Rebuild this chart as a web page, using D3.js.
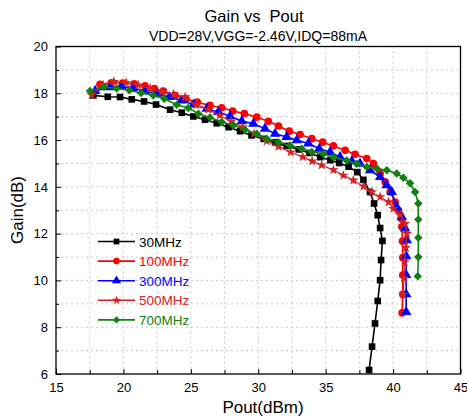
<!DOCTYPE html>
<html>
<head>
<meta charset="utf-8">
<script src="https://cdn.jsdelivr.net/npm/d3@7"></script>
<style>
  body { margin: 0; background: #fff; }
  text { font-family: "Liberation Sans", Arial, sans-serif; white-space: pre; }
</style>
</head>
<body>
<script>
// Pout (dBm) and Gain (dB) per frequency
const pout30 = [17.77,18.84,19.75,20.62,21.53,22.42,23.46,24.33,25.19,26.05,26.92,27.8,28.65,29.5,30.4,31.25,32.1,33.0,33.8,34.6,35.35,36.0,36.7,37.35,37.8,38.29,38.59,38.86,39.04,39.21,39.11,39.04,38.86,38.66,38.44,38.22];
const gain30 = [17.91,17.85,17.84,17.74,17.65,17.52,17.3,17.17,17.01,16.87,16.72,16.55,16.38,16.2,16.05,15.9,15.75,15.6,15.45,15.27,15.14,15.02,14.86,14.63,14.3,13.78,13.29,12.79,12.24,11.69,10.87,10.01,9.12,8.16,7.17,6.17];

const pout100 = [18.26,19.1,19.95,20.8,21.6,22.3,22.96,23.83,24.64,25.48,26.42,27.29,28.11,28.97,29.89,30.75,31.5,32.3,33.1,33.97,34.78,35.57,36.44,37.18,38.05,38.54,39.04,39.41,39.78,40.15,40.39,40.6,40.65,40.7,40.72,40.72,40.72,40.67];
const gain100 = [18.38,18.45,18.44,18.4,18.32,18.2,18.09,17.91,17.77,17.62,17.48,17.38,17.24,17.13,16.98,16.8,16.6,16.38,16.24,16.06,15.91,15.75,15.56,15.39,15.21,14.99,14.57,14.21,13.78,13.35,13.0,12.65,12.29,11.68,10.98,10.23,9.41,8.61];

const pout300 = [17.9,19.0,19.85,20.7,21.6,22.5,23.4,24.3,25.2,26.18,27.04,27.91,28.78,29.64,30.5,31.25,32.11,32.86,33.72,34.53,35.33,36.07,36.94,37.55,38.29,39.04,39.53,39.9,40.27,40.65,40.89,41.02,40.97,40.97,40.97,40.97];
const gain300 = [18.1,18.26,18.3,18.22,18.1,17.98,17.84,17.69,17.52,17.34,17.2,17.02,16.81,16.7,16.49,16.27,16.13,15.99,15.85,15.63,15.49,15.27,15.1,14.99,14.71,14.42,14.07,13.78,13.14,12.71,12.22,11.72,11.04,10.23,9.41,8.65];

const pout500 = [17.65,18.5,19.3,20.2,21.1,22.0,22.84,23.7,24.57,25.4,26.3,27.15,28.0,28.85,29.7,30.63,31.5,32.4,33.3,34.0,34.7,35.57,36.31,37.05,37.8,38.42,39.04,39.66,40.02,40.52,40.89,41.02,40.95,40.85,40.8,40.75];
const gain500 = [17.92,18.35,18.5,18.45,18.35,18.2,18.06,17.96,17.84,17.5,17.3,17.05,16.8,16.55,16.27,15.95,15.72,15.48,15.28,15.1,14.93,14.72,14.49,14.28,14.02,13.78,13.57,13.35,13.07,12.79,12.43,12.0,11.4,10.8,10.1,9.4];

const pout700 = [17.52,18.56,19.5,20.44,21.31,22.22,23.03,23.95,24.81,25.56,26.42,27.29,28.15,29.02,29.89,30.63,31.49,32.36,33.22,33.97,34.83,35.57,36.56,37.3,38.05,38.79,39.53,40.27,40.76,41.26,41.63,41.87,41.87,41.87,41.87,41.83];
const gain700 = [18.1,18.27,18.2,18.13,18.01,17.91,17.77,17.51,17.37,17.13,16.96,16.77,16.63,16.44,16.27,16.06,15.91,15.77,15.63,15.49,15.42,15.27,15.13,14.99,14.85,14.78,14.71,14.57,14.39,14.15,13.78,13.29,12.6,11.82,11.0,10.18];

const seriesNames = ['30MHz','100MHz','300MHz','500MHz','700MHz'];
const xTicks = [15,20,25,30,35,40,45];
const yTicks = [6,8,10,12,14,16,18,20];

const W = 467, H = 418;
const margin = {top: 46.5, right: 6.5, bottom: 44, left: 56};
const width = W - margin.left - margin.right;
const height = H - margin.top - margin.bottom;

const svg = d3.select('body').append('svg')
  .attr('width', W).attr('height', H);

const g = svg.append('g')
  .attr('transform', `translate(${margin.left},${margin.top})`);

const xscale = d3.scaleLinear().domain([15, 45]).range([0, width]);
const yscale = d3.scaleLinear().domain([6, 20]).range([height, 0]);

// dotted grid
const grid = g.append('g').attr('class', 'grid');
grid.selectAll('line.vx').data(d3.range(17.5, 45, 2.5)).join('line')
  .attr('x1', d => xscale(d)).attr('x2', d => xscale(d))
  .attr('y1', 0).attr('y2', height)
  .attr('stroke', '#c8c8c8').attr('stroke-width', 1).attr('stroke-dasharray', '2,3');
grid.selectAll('line.hy').data(d3.range(7, 20, 1)).join('line')
  .attr('x1', 0).attr('x2', width)
  .attr('y1', d => yscale(d)).attr('y2', d => yscale(d))
  .attr('stroke', '#c8c8c8').attr('stroke-width', 1).attr('stroke-dasharray', '2,3');

// axes with inward ticks
const xaxis = d3.axisBottom(xscale).tickValues(d3.range(15, 45.1, 2.5))
  .tickSize(-5).tickPadding(9).tickFormat(d => xTicks.includes(d) ? d : '');
const g_xaxis = g.append('g').attr('transform', `translate(0,${height})`).call(xaxis);

const yaxis = d3.axisLeft(yscale).tickValues(d3.range(6, 20.1, 1))
  .tickSize(-5).tickPadding(8).tickFormat(d => yTicks.includes(d) ? d : '');
const g_yaxis = g.append('g').call(yaxis);

[g_xaxis, g_yaxis].forEach(ax => {
  ax.select('.domain').remove();
  ax.selectAll('line').attr('stroke', '#000').attr('stroke-width', 1);
  ax.selectAll('text').attr('font-size', 13).attr('fill', '#000')
    .style('font-family', '"Liberation Sans", Arial, sans-serif');
});
g_xaxis.selectAll('.tick').filter(d => !xTicks.includes(d)).select('line').attr('y2', -4);
g_yaxis.selectAll('.tick').filter(d => !yTicks.includes(d)).select('line').attr('x2', 3);

// frame
g.append('rect').attr('width', width).attr('height', height)
  .attr('fill', 'none').attr('stroke', '#000').attr('stroke-width', 1.3);

// series
const colors = ['#000000', '#ff0000', '#0000ff', '#d42222', '#118011'];
const symbols = [d3.symbolSquare, d3.symbolCircle, d3.symbolTriangle, d3.symbolStar, d3.symbolSquare];
const sizes = [44, 46, 48, 34, 36];
const rotate = [0, 0, 0, 0, 45];
const pouts = [pout30, pout100, pout300, pout500, pout700];
const gains = [gain30, gain100, gain300, gain500, gain700];

const series = seriesNames.map((name, i) => ({
  name,
  color: colors[i],
  pts: pouts[i].map((p, j) => ({p, gv: gains[i][j]}))
}));

const line = d3.line().x(d => xscale(d.p)).y(d => yscale(d.gv));

const plot = g.append('g');
series.forEach((s, i) => {
  const sg = plot.append('g');
  sg.append('path').datum(s.pts)
    .attr('d', line).attr('fill', 'none')
    .attr('stroke', s.color).attr('stroke-width', i === 3 ? 1.2 : 1.6);
  sg.selectAll('path.m').data(s.pts).join('path')
    .attr('class', 'm')
    .attr('d', d3.symbol().type(symbols[i]).size(sizes[i]))
    .attr('transform', d => `translate(${xscale(d.p)},${yscale(d.gv)}) rotate(${rotate[i]})`)
    .attr('fill', s.color);
});

// legend
const legend = g.append('g').attr('transform', `translate(${98 - margin.left},${241.5 - margin.top})`);
series.forEach((s, i) => {
  const row = legend.append('g').attr('transform', `translate(0,${i * 19.6})`);
  row.append('line').attr('x1', 0).attr('x2', 37).attr('y1', 0).attr('y2', 0)
    .attr('stroke', s.color).attr('stroke-width', 1.6);
  row.append('path')
    .attr('d', d3.symbol().type(symbols[i]).size(sizes[i] * 0.75))
    .attr('transform', `translate(18.5,0) rotate(${rotate[i]})`)
    .attr('fill', s.color);
  row.append('text').attr('x', 41).attr('y', 5)
    .attr('font-size', 13.5).attr('fill', s.color).text(s.name);
});

// titles
svg.append('text').attr('x', 254).attr('y', 22).attr('text-anchor', 'middle')
  .attr('font-size', 16.5).text('Gain vs  Pout');
svg.append('text').attr('x', 258).attr('y', 41).attr('text-anchor', 'middle')
  .attr('font-size', 14).text('VDD=28V,VGG=-2.46V,IDQ=88mA');
svg.append('text').attr('x', 263).attr('y', 413).attr('text-anchor', 'middle')
  .attr('font-size', 17).text('Pout(dBm)');
svg.append('text').attr('transform', 'translate(23,210) rotate(-90)')
  .attr('text-anchor', 'middle').attr('font-size', 17).text('Gain(dB)');
</script>
</body>
</html>
